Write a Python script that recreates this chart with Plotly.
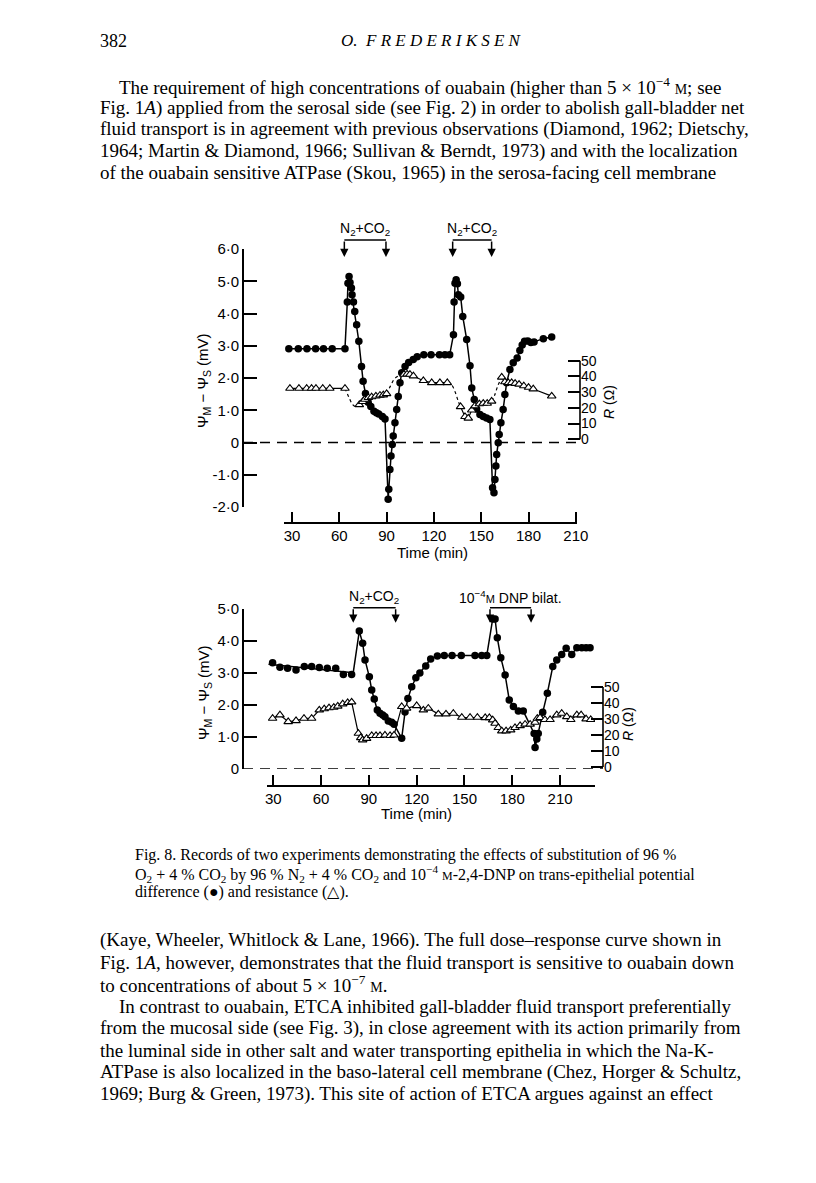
import numpy as np
import plotly.graph_objects as go

W, H = 816, 1183


def px(x):
    return x / W


def py(y):
    return 1 - y / H


# ------------------------- DATA: upper experiment -------------------------
top_pd_t = [28, 34, 39.5, 45, 50, 55.5, 63.6,
            65.1, 65.5, 66.2, 66.8, 67.7, 68.1, 69.0, 69.8, 71.0, 72.4, 74.1, 75.1, 76.6, 78.3, 80.0,
            82.0, 83.5, 85.0, 87.3, 89.0,
            91.0, 91.4, 92.1, 92.8, 93.6, 94.2, 95.3, 96.4, 97.4, 98.5, 99.6, 101.7, 104.0, 106.9, 109.4,
            113.6, 118.2, 123.5, 127.0, 130.0,
            132.4, 132.8, 133.4, 134.1, 134.9, 135.5, 137.0, 138.3, 140.8, 142.9, 144.0, 145.6, 147.1,
            149.2, 151.3, 153.4, 155.5,
            157.2, 158.1, 158.7, 159.3, 159.8, 160.8, 161.4, 162.5, 163.9, 165.0, 166.1, 168.2, 170.3,
            172.8, 174.5, 176.0, 177.5, 179.5, 181.5, 183.5, 189.4, 194.7]
top_pd_mv = [2.91, 2.91, 2.91, 2.91, 2.91, 2.91, 2.91,
             4.36, 4.94, 5.15, 4.96, 4.79, 4.58, 4.36, 4.06, 3.65, 3.14, 2.36, 1.90, 1.52, 1.25, 1.12,
             0.97, 0.92, 0.88, 0.81, 0.73,
             -1.76, -1.45, -0.84, -0.42, -0.06, 0.20, 0.61, 1.02, 1.43, 1.85, 2.16, 2.36, 2.48, 2.57, 2.66,
             2.72, 2.72, 2.72, 2.72, 2.72,
             3.34, 4.36, 4.94, 5.05, 4.92, 4.58, 4.51, 3.91, 3.19, 2.38, 1.69, 1.33, 1.04,
             0.87, 0.81, 0.76, 0.71,
             -1.40, -1.56, -1.15, -0.73, -0.37, -0.01, 0.25, 0.61, 1.02, 1.49, 1.85, 2.26, 2.47,
             2.62, 2.85, 3.02, 3.14, 3.15, 3.10, 3.12, 3.22, 3.27]

# resistance (triangles), solid-connected groups
top_r_t = [28.7, 34.4, 39.3, 42.4, 45.2, 49.5, 54.0, 63.6,
           72.7, 74.8, 76.2, 78.4, 80.5, 83.2, 85.8, 87.9, 90.0,
           101.0, 103.0, 104.8, 107.0, 113.3, 118.6, 123.8, 128.5,
           136.9, 139.7, 141.8, 144.0, 146.0, 148.8, 151.3, 153.8, 156.6,
           163.0, 165.0, 167.2, 169.3, 171.5, 174.0, 177.0, 180.0, 183.0, 194.7]
top_r = [32.4, 32.4, 32.4, 32.4, 32.4, 32.4, 32.4, 32.4,
         22.0, 24.0, 25.4, 26.5, 27.0, 27.5, 28.0, 28.2, 29.0,
         41.3, 41.5, 41.3, 40.3, 37.3, 36.0, 36.0, 36.0,
         20.7, 14.4, 13.4, 18.6, 21.2, 22.5, 22.9, 22.9, 24.2,
         39.5, 36.5, 36.0, 36.0, 35.5, 35.0, 34.0, 33.0, 32.0, 27.5]
top_r_grp = [0] * 8 + [1] * 9 + [2] * 8 + [3] * 9 + [4] * 10

# dashed transitions of resistance
top_rd_t = [63.6, 66.0, 68.5, 70.5, 72.7,
            90.0, 92.5, 95.0, 98.0, 101.0,
            128.5, 131.0, 133.5, 135.5, 136.9,
            156.6, 158.5, 160.5, 163.0]
top_rd = [32.4, 27.0, 22.0, 20.7, 22.0,
          29.0, 34.0, 38.5, 40.5, 41.3,
          36.0, 35.0, 30.0, 24.0, 20.7,
          24.2, 28.0, 34.0, 39.5]
top_rd_grp = [0] * 5 + [1] * 5 + [2] * 5 + [3] * 4

top_gas_on = [63.2, 131.9]
top_gas_off = [89.6, 156.6]
top_gas_labels = ["N<sub>2</sub>+CO<sub>2</sub>", "N<sub>2</sub>+CO<sub>2</sub>"]

# ------------------------- DATA: lower experiment -------------------------
bot_pd_t = [29.6, 34.2, 39.0, 44.3, 49.5, 54.1, 58.9, 63.9, 69.2, 74.0, 79.2,
            84.0, 86.1, 87.6, 90.3, 91.8, 93.4, 95.3, 97.0, 98.7, 100.1, 102.2, 104.3, 105.8,
            110.6, 112.7, 114.5, 116.9, 119.5, 122.0, 125.7, 128.8, 133.0, 137.3, 142.2, 148.0,
            156.6, 160.8, 164.0,
            167.7, 169.2, 170.6, 172.8, 175.5, 178.1, 180.7, 183.8, 186.9,
            193.7, 194.3, 195.4, 196.3, 199.1, 202.0, 205.4, 207.9, 211.0, 213.8, 217.3,
            220.5, 223.6, 226.3, 228.8]
bot_pd_mv = [3.32, 3.18, 3.15, 3.09, 3.20, 3.20, 3.17, 3.15, 3.15, 2.95, 2.95,
             4.31, 3.93, 3.41, 2.88, 2.47, 2.19, 1.84, 1.74, 1.69, 1.63, 1.50, 1.46, 1.40,
             0.96, 1.78, 2.20, 2.57, 2.85, 3.00, 3.22, 3.44, 3.53, 3.55, 3.55, 3.55,
             3.55, 3.55, 3.55,
             4.69, 4.69, 4.10, 3.48, 2.94, 2.16, 1.95, 1.81, 1.81,
             1.11, 0.67, 0.94, 1.11, 1.77, 2.37, 3.20, 3.41, 3.58, 3.77, 3.58,
             3.79, 3.79, 3.79, 3.79]
bot_base_n = 11            # first points are drawn with a fitted baseline
bot_base_t = [27.0, 80.2]  # extent of that baseline

bot_r_t = [29.6, 34.2, 39.4, 44.3, 49.3, 54.1, 58.9, 62.0, 65.0, 68.0, 70.5, 73.6, 76.7, 79.2,
           83.4, 84.9, 86.1, 88.6, 91.8, 94.5, 97.0, 100.1, 103.3, 105.8,
           110.6, 113.7, 120.0, 124.2, 127.3, 133.6, 138.4, 143.0, 148.3, 153.5, 158.1, 163.0, 165.6,
           167.7, 169.2, 171.2, 173.4, 176.1, 179.0, 181.7, 184.9, 188.0, 191.2,
           194.3, 195.7, 197.4, 200.5, 203.7, 207.9, 211.0, 214.2, 216.7, 220.5, 223.2, 226.3, 229.2]
bot_r = [30.4, 32.5, 28.3, 28.9, 30.4, 30.4, 35.6, 36.3, 37.0, 37.3, 38.0, 39.4, 40.2, 40.6,
         21.0, 18.3, 16.9, 17.8, 19.6, 19.6, 19.6, 19.9, 19.6, 19.9,
         37.7, 36.7, 38.3, 35.6, 36.7, 33.1, 33.1, 33.5, 31.0, 31.0, 31.0, 30.8, 30.8,
         29.4, 27.3, 24.6, 22.5, 22.5, 23.1, 24.6, 25.8, 26.7, 26.7,
         27.9, 30.4, 30.8, 29.6, 29.6, 32.5, 33.5, 31.4, 29.6, 32.5, 32.5, 30.0, 29.6]

bot_gas_on = [80.2, 166.0]
bot_gas_off = [106.8, 191.8]
bot_gas_labels = ["N<sub>2</sub>+CO<sub>2</sub>",
                  "10<sup>−4</sup><span style='font-size:11px'>M</span> DNP bilat."]

x_ticks = [30, 60, 90, 120, 150, 180, 210]
top_y_ticks = [-2, -1, 0, 1, 2, 3, 4, 5, 6]
top_y_text = ["-2·0", "-1·0", "0", "1·0", "2·0", "3·0", "4·0", "5·0", "6·0"]
bot_y_ticks = [0, 1, 2, 3, 4, 5]
bot_y_text = ["0", "1·0", "2·0", "3·0", "4·0", "5·0"]
r_ticks = [0, 10, 20, 30, 40, 50]

# ------------------------- TEXT -------------------------
head_page = "382"
head_author = "<i>O.  F R E D E R I K S E N</i>"
para_top = [
    "The requirement of high concentrations of ouabain (higher than 5 × 10<sup>−4</sup> <span style='font-size:14px'>M</span>; see",
    "Fig. 1<i>A</i>) applied from the serosal side (see Fig. 2) in order to abolish gall-bladder net",
    "fluid transport is in agreement with previous observations (Diamond, 1962; Dietschy,",
    "1964; Martin & Diamond, 1966; Sullivan & Berndt, 1973) and with the localization",
    "of the ouabain sensitive ATPase (Skou, 1965) in the serosa-facing cell membrane",
]
caption = [
    "Fig. 8. Records of two experiments demonstrating the effects of substitution of 96 %",
    "O<sub>2</sub> + 4 % CO<sub>2</sub> by 96 % N<sub>2</sub> + 4 % CO<sub>2</sub> and 10<sup>−4</sup> <span style='font-size:12px'>M</span>-2,4-DNP on trans-epithelial potential",
    "difference (●) and resistance (△).",
]
para_bot = [
    "(Kaye, Wheeler, Whitlock & Lane, 1966). The full dose–response curve shown in",
    "Fig. 1<i>A</i>, however, demonstrates that the fluid transport is sensitive to ouabain down",
    "to concentrations of about 5 × 10<sup>−7</sup> <span style='font-size:14px'>M</span>.",
    "In contrast to ouabain, ETCA inhibited gall-bladder fluid transport preferentially",
    "from the mucosal side (see Fig. 3), in close agreement with its action primarily from",
    "the luminal side in other salt and water transporting epithelia in which the Na-K-",
    "ATPase is also localized in the baso-lateral cell membrane (Chez, Horger & Schultz,",
    "1969; Burg & Green, 1973). This site of action of ETCA argues against an effect",
]

# ------------------------- FIGURE -------------------------
fig = go.Figure()
LW = 1.5
circ = dict(symbol="circle", size=7.5, color="black", line=dict(width=0))
tri = dict(symbol="triangle-up", size=7.5, color="white", line=dict(color="black", width=1.1))

# upper: dashed resistance transitions
for g in sorted(set(top_rd_grp)):
    xs = [t for t, k in zip(top_rd_t, top_rd_grp) if k == g]
    ys = [r for r, k in zip(top_rd, top_rd_grp) if k == g]
    fig.add_trace(go.Scatter(x=xs, y=ys, mode="lines",
                             line=dict(color="black", width=1.2, dash="3px,3px", shape="spline"),
                             xaxis="x", yaxis="y2", hoverinfo="skip"))
# upper: resistance groups
for g in sorted(set(top_r_grp)):
    xs = [t for t, k in zip(top_r_t, top_r_grp) if k == g]
    ys = [r for r, k in zip(top_r, top_r_grp) if k == g]
    fig.add_trace(go.Scatter(x=xs, y=ys, mode="lines+markers", line=dict(color="black", width=1.2),
                             marker=tri, xaxis="x", yaxis="y2"))
# upper: potential difference
fig.add_trace(go.Scatter(x=top_pd_t, y=top_pd_mv, mode="lines+markers", line=dict(color="black", width=LW),
                         marker=circ, xaxis="x", yaxis="y"))

# lower: resistance
fig.add_trace(go.Scatter(x=bot_r_t, y=bot_r, mode="lines+markers", line=dict(color="black", width=1.2),
                         marker=tri, xaxis="x2", yaxis="y4"))
# lower: potential difference (fitted baseline then connected points)
coef = np.polyfit(bot_pd_t[:bot_base_n], bot_pd_mv[:bot_base_n], 1)
line_x = list(bot_base_t) + bot_pd_t[bot_base_n:]
line_y = [float(np.polyval(coef, t)) for t in bot_base_t] + bot_pd_mv[bot_base_n:]
fig.add_trace(go.Scatter(x=line_x, y=line_y, mode="lines", line=dict(color="black", width=LW),
                         xaxis="x2", yaxis="y3", hoverinfo="skip"))
fig.add_trace(go.Scatter(x=bot_pd_t, y=bot_pd_mv, mode="markers", marker=circ, xaxis="x2", yaxis="y3"))

sans = "Liberation Sans, Arial, sans-serif"
serif = "Liberation Serif, Times New Roman, serif"
tickfont = dict(family=sans, size=15, color="black")
rtickfont = dict(family=sans, size=14, color="black")
common = dict(showgrid=False, zeroline=False, ticks="inside", tickcolor="black", tickwidth=1.6,
              linecolor="black", linewidth=1.6)

shapes = []
annotations = []

# ----- axes geometry (pixel positions of the printed axes) -----
top = dict(x0=284.1, x1=577.4, t0=25.0, t1=211.0, xline=523, ybot=507, ytop=249, yaxis=243, raxis=580,
           rmin=-43.1, rmax=121.1, ymin=-2, ymax=6)
bot = dict(x0=266.7, x1=595.0, t0=25.9, t1=231.9, xline=785.7, ybot=769, ytop=609, yaxis=243, raxis=603,
           rmin=-1.25, rmax=98.75, ymin=0, ymax=5)

layout = dict(
    width=W, height=H, margin=dict(l=0, r=0, t=0, b=0, autoexpand=False),
    paper_bgcolor="white", plot_bgcolor="rgba(0,0,0,0)", showlegend=False,
    xaxis=dict(domain=[px(top["x0"]), px(top["x1"])], range=[top["t0"], top["t1"]], anchor="free",
               position=py(top["xline"]), tickvals=x_ticks, ticklen=10, showline=True,
               tickfont=tickfont, ticklabelstandoff=-1, **common),
    yaxis=dict(domain=[py(top["ybot"]), py(top["ytop"])], range=[top["ymin"], top["ymax"]], anchor="free",
               position=px(top["yaxis"]), tickvals=top_y_ticks, ticktext=top_y_text, ticklen=13,
               showline=True, tickfont=tickfont, **common),
    yaxis2=dict(overlaying="y", side="right", anchor="free", position=px(top["raxis"]),
                range=[top["rmin"], top["rmax"]], tickvals=r_ticks, ticklen=12, showline=False,
                tickfont=rtickfont, **common),
    xaxis2=dict(domain=[px(bot["x0"]), px(bot["x1"])], range=[bot["t0"], bot["t1"]], anchor="free",
                position=py(bot["xline"]), tickvals=x_ticks, ticklen=10, showline=True,
                tickfont=tickfont, ticklabelstandoff=-1, **common),
    yaxis3=dict(domain=[py(bot["ybot"]), py(bot["ytop"])], range=[bot["ymin"], bot["ymax"]], anchor="free",
                position=px(bot["yaxis"]), tickvals=bot_y_ticks, ticktext=bot_y_text, ticklen=13,
                showline=True, tickfont=tickfont, **common),
    yaxis4=dict(overlaying="y3", side="right", anchor="free", position=px(bot["raxis"]),
                range=[bot["rmin"], bot["rmax"]], tickvals=r_ticks, ticklen=12, showline=False,
                tickfont=rtickfont, **common),
)

# right-hand R axis lines (only 0..50) and dashed zero lines
for g, yr, yl in ((top, "y2", "y"), (bot, "y4", "y3")):
    shapes.append(dict(type="line", xref="paper", yref=yr, x0=px(g["raxis"]), x1=px(g["raxis"]),
                       y0=r_ticks[0], y1=r_ticks[-1], line=dict(color="black", width=1.6)))
    shapes.append(dict(type="line", xref="paper", yref=yl, x0=px(g["yaxis"]), x1=px(g["raxis"]),
                       y0=0, y1=0, line=dict(color="black", width=1.5, dash="10px,7px")))


def note(x, y, text, font, xanchor="center", **kw):
    d = dict(x=x, y=y, xref="paper", yref="paper", xanchor=xanchor, yanchor="middle",
             showarrow=False, text=text, font=font)
    d.update(kw)
    return d


# axis titles
for yc, xc_r, yc_r, xt, yt in ((381, 609, 402, 432, 552), (693, 628, 724, 417, 813)):
    annotations.append(note(px(204), py(yc), "Ψ<sub>M</sub> − Ψ<sub>S</sub> (mV)",
                            dict(family=sans, size=15, color="black"), textangle=-90))
    annotations.append(note(px(xc_r), py(yc_r), "<i>R</i> (Ω)",
                            dict(family=sans, size=14, color="black"), textangle=-90))
    annotations.append(note(px(xt), py(yt), "Time (min)", dict(family=sans, size=15, color="black")))

# gas / drug brackets
for ons, offs, labs, xr, ybr, ytip, ylab in ((top_gas_on, top_gas_off, top_gas_labels, "x", 240, 257, 229),
                                             (bot_gas_on, bot_gas_off, bot_gas_labels, "x2", 607.7, 622.7, 597)):
    for a, b, lab in zip(ons, offs, labs):
        shapes.append(dict(type="line", xref=xr, yref="paper", x0=a, x1=b, y0=py(ybr), y1=py(ybr),
                           line=dict(color="black", width=1.5)))
        for t in (a, b):
            annotations.append(dict(x=t, y=py(ytip), xref=xr, yref="paper", text="", showarrow=True,
                                    ax=0, ay=-(ytip - ybr), arrowhead=2, arrowsize=1.1, arrowwidth=1.5,
                                    arrowcolor="black"))
        annotations.append(dict(x=(a + b) / 2, y=py(ylab), xref=xr, yref="paper", xanchor="center",
                                yanchor="middle", showarrow=False, text=lab,
                                font=dict(family=sans, size=14, color="black")))

# page text
annotations.append(note(px(98), py(41), head_page, dict(family=serif, size=18, color="black"), xanchor="left"))
annotations.append(note(px(431), py(41), head_author, dict(family=serif, size=17, color="black")))
for i, line in enumerate(para_top):
    annotations.append(note(px(117 if i == 0 else 98), py(86 + 21.7 * i), line,
                            dict(family=serif, size=19, color="black"), xanchor="left"))
for i, line in enumerate(caption):
    annotations.append(note(px(133), py(855 + 18.5 * i), line,
                            dict(family=serif, size=16, color="black"), xanchor="left"))
for i, line in enumerate(para_bot):
    annotations.append(note(px(117 if i == 3 else 98), py(940 + 22 * i), line,
                            dict(family=serif, size=19, color="black"), xanchor="left"))

layout["shapes"] = shapes
layout["annotations"] = annotations
fig.update_layout(**layout)
fig.write_html("out.html", config={"displayModeBar": False},
               post_script="document.body.style.margin='0px';document.body.style.padding='0px';"
                           "document.documentElement.style.overflow='hidden';")
